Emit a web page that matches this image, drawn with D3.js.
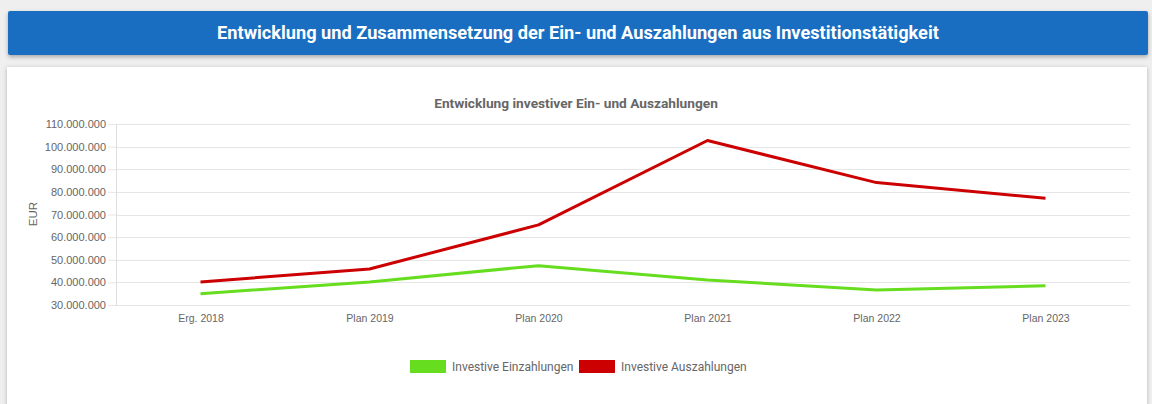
<!DOCTYPE html>
<html>
<head>
<meta charset="utf-8">
<script src="https://cdn.jsdelivr.net/npm/d3@7"></script>
<style>
  body { margin: 0; background: #efefef; font-family: Roboto, "Noto Sans", sans-serif; }
  #header {
    position: absolute; left: 8px; top: 11px; width: 1140px; height: 44px;
    background: #1a6ec2; border-radius: 2px; box-shadow: 0 2px 4px rgba(0,0,0,0.3);
    color: #fff; font-weight: bold; font-size: 18.2px; text-align: center; line-height: 44px;
  }
  #card {
    position: absolute; left: 7px; top: 67px; width: 1140px; height: 360px;
    background: #fff; box-shadow: 0 1px 4px rgba(0,0,0,0.25);
  }
  #chart { position: absolute; left: 0; top: 0; }
</style>
</head>
<body>
<div id="header">Entwicklung und Zusammensetzung der Ein- und Auszahlungen aus Investitionstätigkeit</div>
<div id="card"></div>
<svg id="chart" width="1152" height="404"></svg>
<script>
var categories = ['Erg. 2018', 'Plan 2019', 'Plan 2020', 'Plan 2021', 'Plan 2022', 'Plan 2023']
var einzahlungen = [35000000, 40200000, 47400000, 41100000, 36600000, 38500000]
var auszahlungen = [40200000, 45900000, 65400000, 102700000, 84100000, 77200000]
var yTicks = [30000000, 40000000, 50000000, 60000000, 70000000, 80000000, 90000000, 100000000, 110000000]

var series = [
    { name: 'Investive Einzahlungen', values: einzahlungen, color: '#66dd1e' },
    { name: 'Investive Auszahlungen', values: auszahlungen, color: '#cc0000' }
]

var svg = d3.select('#chart')
var plotLeft = 116, plotRight = 1130, plotTop = 124, plotBottom = 305
var axisFont = '"Liberation Sans", Arial, sans-serif'

var x = d3.scalePoint()
    .domain(categories)
    .range([plotLeft, plotRight])
    .padding(0.5)

var y = d3.scaleLinear()
    .domain([30000000, 110000000])
    .range([plotBottom, plotTop])

var fmt = function (d) {
    return d3.format(',')(d).replace(/,/g, '.')
}

// title
svg.append('text')
    .attr('x', 576)
    .attr('y', 107.5)
    .attr('text-anchor', 'middle')
    .attr('font-size', 13.7)
    .attr('font-weight', 'bold')
    .attr('fill', '#666')
    .text('Entwicklung investiver Ein- und Auszahlungen')

// gridlines
svg.append('g')
    .selectAll('line')
    .data(yTicks)
    .enter()
    .append('line')
    .attr('x1', plotLeft)
    .attr('x2', plotRight)
    .attr('y1', function (d) { return Math.round(y(d)) + 0.5 })
    .attr('y2', function (d) { return Math.round(y(d)) + 0.5 })
    .attr('stroke', '#e6e6e6')

var yAxis = svg.append('g')
    .attr('transform', 'translate(' + plotLeft + ',0)')
    .call(d3.axisLeft(y).tickValues(yTicks).tickFormat(fmt).tickSize(8).tickPadding(2))
yAxis.select('.domain').attr('stroke', '#ddd')
yAxis.selectAll('.tick line').attr('stroke', '#e6e6e6')
yAxis.selectAll('.tick text')
    .attr('fill', '#666')
    .attr('font-size', 11)
    .attr('font-family', axisFont)

var xAxis = svg.append('g')
    .attr('transform', 'translate(0,' + plotBottom + ')')
    .call(d3.axisBottom(x).tickSize(0).tickPadding(10))
xAxis.select('.domain').remove()
xAxis.selectAll('.tick text')
    .attr('fill', '#666')
    .attr('font-size', 10.5)
    .attr('font-family', axisFont)

// y axis label
svg.append('text')
    .attr('transform', 'translate(37,214) rotate(-90)')
    .attr('text-anchor', 'middle')
    .attr('font-size', 11.5)
    .attr('font-family', axisFont)
    .attr('fill', '#666')
    .text('EUR')

var line = d3.line()
    .x(function (d, i) { return x(categories[i]) })
    .y(function (d) { return y(d) })

svg.selectAll('.series')
    .data(series)
    .enter()
    .append('path')
    .attr('class', 'series')
    .attr('d', function (d) { return line(d.values) })
    .attr('fill', 'none')
    .attr('stroke', function (d) { return d.color })
    .attr('stroke-width', 3)
    .attr('stroke-linejoin', 'round')

// legend
var legendX = [410, 579]
var legend = svg.selectAll('.legend')
    .data(series)
    .enter()
    .append('g')
    .attr('class', 'legend')
    .attr('transform', function (d, i) { return 'translate(' + legendX[i] + ',360)' })

legend.append('rect')
    .attr('width', 36)
    .attr('height', 13)
    .attr('fill', function (d) { return d.color })

legend.append('text')
    .attr('x', 42)
    .attr('y', 10.5)
    .attr('font-size', 12)
    .attr('fill', '#666')
    .text(function (d) { return d.name })
</script>
</body>
</html>
